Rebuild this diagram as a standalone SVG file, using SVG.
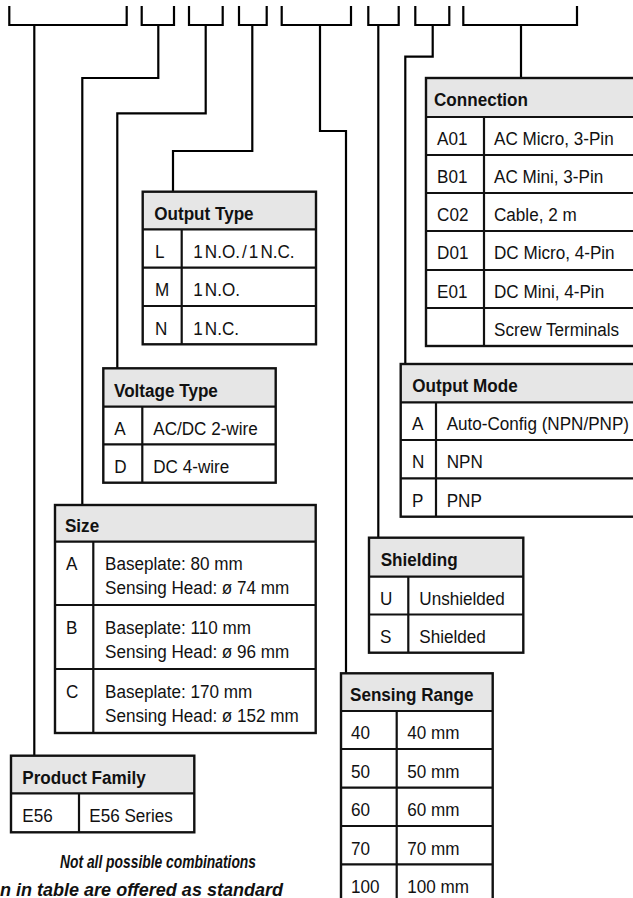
<svg xmlns="http://www.w3.org/2000/svg" width="633" height="898" viewBox="0 0 633 898">
<style>
.ln{fill:none;stroke:#000;stroke-width:2.2}
.hd{fill:#e6e6e6;stroke:none}
.bx{fill:none;stroke:#111;stroke-width:2.4}
.gr{stroke:#111;stroke-width:2.2;fill:none}
text{font-family:"Liberation Sans",Arial,sans-serif;font-size:19px;fill:#111}
.h{font-weight:bold}
.fn{font-weight:bold;font-style:italic;font-size:19px}
</style>
<rect width="633" height="898" fill="#fff"/>
<g id="connectors" class="ln">
<path d="M9.3,6V25H126.7V6"/>
<path d="M141.7,6V25H174V6"/>
<path d="M189,6V25H222.7V6"/>
<path d="M239,6V25H266.7V6"/>
<path d="M281.7,6V25H351V6"/>
<path d="M368.3,6V25H398.7V6"/>
<path d="M415.3,6V25H449.3V6"/>
<path d="M463.3,6V25H577V6"/>
<path d="M34.3,25V756"/>
<path d="M158.3,25V78H82.3V505"/>
<path d="M205.7,25V113.3H117.3V368"/>
<path d="M252.3,25V151H173V192"/>
<path d="M320,25V131H346V673"/>
<path d="M378.3,25V538"/>
<path d="M432.7,25V56.7H405.3V364"/>
<path d="M521,25V78"/>
</g>
<g id="connection">
<rect class="hd" x="426" y="78" width="214" height="39"/>
<path class="gr" d="M426,117H640M426,155H640M426,193H640M426,231H640M426,270H640M426,308H640M484,117V346"/>
<rect class="bx" x="426" y="78" width="214" height="268"/>
<g transform="scale(0.9,1)">
<text class="h" x="482.2" y="106">Connection</text>
<text x="485.6" y="145">A01</text><text x="548.9" y="145">AC Micro, 3-Pin</text>
<text x="485.6" y="183">B01</text><text x="548.9" y="183">AC Mini, 3-Pin</text>
<text x="485.6" y="221">C02</text><text x="548.9" y="221">Cable, 2 m</text>
<text x="485.6" y="259">D01</text><text x="548.9" y="259">DC Micro, 4-Pin</text>
<text x="485.6" y="298">E01</text><text x="548.9" y="298">DC Mini, 4-Pin</text>
<text x="548.9" y="336">Screw Terminals</text>
</g>
</g>
<g id="output-type">
<rect class="hd" x="142.7" y="191.7" width="173.3" height="37.6"/>
<path class="gr" d="M142.7,229.3H316M142.7,267.7H316M142.7,306H316M181.7,229.3V344.3"/>
<rect class="bx" x="142.7" y="191.7" width="173.3" height="152.6"/>
<g transform="scale(0.9,1)">
<text class="h" x="171.4" y="220">Output Type</text>
<text x="172.2" y="258">L</text><text x="214.8" y="258" style="word-spacing:-3px">1 N.O. / 1 N.C.</text>
<text x="172.2" y="296">M</text><text x="214.8" y="296" style="word-spacing:-3px">1 N.O.</text>
<text x="172.2" y="335">N</text><text x="214.8" y="335" style="word-spacing:-3px">1 N.C.</text>
</g>
</g>
<g id="voltage-type">
<rect class="hd" x="103.3" y="368.3" width="172.4" height="38.4"/>
<path class="gr" d="M103.3,406.7H275.7M103.3,444.3H275.7M142.3,406.7V482.7"/>
<rect class="bx" x="103.3" y="368.3" width="172.4" height="114.4"/>
<g transform="scale(0.9,1)">
<text class="h" x="126.7" y="397">Voltage Type</text>
<text x="127" y="435">A</text><text x="170.3" y="435">AC/DC 2-wire</text>
<text x="127" y="473">D</text><text x="170.3" y="473">DC 4-wire</text>
</g>
</g>
<g id="size">
<rect class="hd" x="55" y="505" width="260.7" height="36.7"/>
<path class="gr" d="M55,541.7H315.7M55,605H315.7M55,669H315.7M93.3,541.7V733"/>
<rect class="bx" x="55" y="505" width="260.7" height="228"/>
<g transform="scale(0.9,1)">
<text class="h" x="72.2" y="532">Size</text>
<text x="73.3" y="570">A</text><text x="116.7" y="570">Baseplate: 80 mm</text><text x="116.7" y="594">Sensing Head: ø 74 mm</text>
<text x="73.3" y="634">B</text><text x="116.7" y="634">Baseplate: 110 mm</text><text x="116.7" y="658">Sensing Head: ø 96 mm</text>
<text x="73.3" y="698">C</text><text x="116.7" y="698">Baseplate: 170 mm</text><text x="116.7" y="722">Sensing Head: ø 152 mm</text>
</g>
</g>
<g id="product-family">
<rect class="hd" x="11" y="755.7" width="183.3" height="37.6"/>
<path class="gr" d="M11,793.3H194.3M79,793.3V832.3"/>
<rect class="bx" x="11" y="755.7" width="183.3" height="76.6"/>
<g transform="scale(0.9,1)">
<text class="h" x="24.8" y="784">Product Family</text>
<text x="24.8" y="822">E56</text><text x="99.2" y="822">E56 Series</text>
</g>
</g>
<g id="output-mode">
<rect class="hd" x="400.7" y="364" width="240" height="38.3"/>
<path class="gr" d="M400.7,402.3H640M400.7,440H640M400.7,478.3H640M436,402.3V516.7"/>
<rect class="bx" x="400.7" y="364" width="240" height="152.7"/>
<g transform="scale(0.9,1)">
<text class="h" x="458.1" y="392">Output Mode</text>
<text x="457.8" y="430">A</text><text x="496.3" y="430">Auto-Config (NPN/PNP)</text>
<text x="457.8" y="468">N</text><text x="496.3" y="468">NPN</text>
<text x="457.8" y="507">P</text><text x="496.3" y="507">PNP</text>
</g>
</g>
<g id="shielding">
<rect class="hd" x="369" y="537.7" width="154.3" height="39"/>
<path class="gr" d="M369,576.7H523.3M369,614.5H523.3M408.3,576.7V652.7"/>
<rect class="bx" x="369" y="537.7" width="154.3" height="115"/>
<g transform="scale(0.9,1)">
<text class="h" x="423" y="566">Shielding</text>
<text x="422.2" y="605">U</text><text x="465.9" y="605">Unshielded</text>
<text x="422.2" y="643">S</text><text x="465.9" y="643">Shielded</text>
</g>
</g>
<g id="sensing-range">
<rect class="hd" x="341" y="673.3" width="151.7" height="37.7"/>
<path class="gr" d="M341,711H492.7M341,749H492.7M341,787.7H492.7M341,826H492.7M341,864.3H492.7M396.7,711V910"/>
<rect class="bx" x="341" y="673.3" width="151.7" height="236"/>
<g transform="scale(0.9,1)">
<text class="h" x="388.9" y="701">Sensing Range</text>
<text x="390" y="739">40</text><text x="452.6" y="739">40 mm</text>
<text x="390" y="778">50</text><text x="452.6" y="778">50 mm</text>
<text x="390" y="816">60</text><text x="452.6" y="816">60 mm</text>
<text x="390" y="855">70</text><text x="452.6" y="855">70 mm</text>
<text x="390" y="893">100</text><text x="452.6" y="893">100 mm</text>
</g>
</g>
<g id="footnote">
<text class="fn" x="60" y="868" textLength="196" lengthAdjust="spacingAndGlyphs">Not all possible combinations</text>
<text class="fn" x="0" y="896" textLength="283" lengthAdjust="spacingAndGlyphs">n in table are offered as standard</text>
</g>
</svg>
